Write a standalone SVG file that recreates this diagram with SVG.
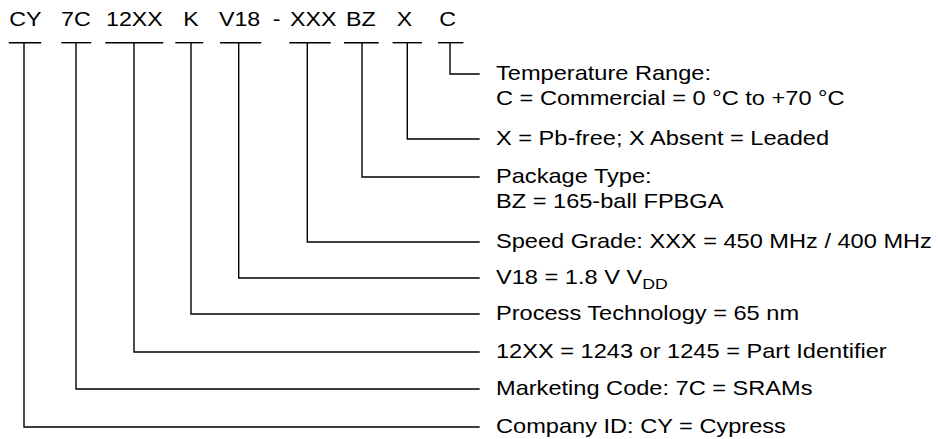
<svg xmlns="http://www.w3.org/2000/svg" width="938" height="439" viewBox="0 0 938 439">
<style>
.t{font-family:"Liberation Sans",Arial,Helvetica,sans-serif;font-size:20px;fill:#000}
.ln{fill:none;stroke:#000;stroke-width:1.4;stroke-linecap:square}
</style>
<rect width="938" height="439" fill="#fff"/>
<g id="code-cy">
<text class="t" transform="translate(9.3,26) scale(1.16,1)">CY</text>
<line class="ln" x1="9.5" y1="42.7" x2="40.5" y2="42.7"/>
<text class="t" transform="translate(496,433) scale(1.18,1)">Company ID: CY = Cypress</text>
</g>
<g id="code-7c">
<text class="t" transform="translate(61,26) scale(1.16,1)">7C</text>
<line class="ln" x1="62" y1="42.7" x2="90.5" y2="42.7"/>
<text class="t" transform="translate(496,395) scale(1.18,1)">Marketing Code: 7C = SRAMs</text>
</g>
<g id="code-12xx">
<text class="t" transform="translate(106,26) scale(1.16,1)">12XX</text>
<line class="ln" x1="106" y1="42.7" x2="162.5" y2="42.7"/>
<text class="t" transform="translate(496,358) scale(1.18,1)">12XX = 1243 or 1245 = Part Identifier</text>
</g>
<g id="code-k">
<text class="t" transform="translate(183.3,26) scale(1.16,1)">K</text>
<line class="ln" x1="176" y1="42.7" x2="202.5" y2="42.7"/>
<text class="t" transform="translate(496,320) scale(1.18,1)">Process Technology = 65 nm</text>
</g>
<g id="code-v18">
<text class="t" transform="translate(219,26) scale(1.16,1)">V18</text>
<line class="ln" x1="220.7" y1="42.7" x2="260.5" y2="42.7"/>
<text class="t" transform="translate(496,284) scale(1.18,1)">V18 = 1.8 V V<tspan font-size="15" dy="5">DD</tspan></text>
</g>
<g id="code-xxx">
<text class="t" transform="translate(272.7,26) scale(1.16,1)">-</text>
<text class="t" transform="translate(290,26) scale(1.16,1)">XXX</text>
<line class="ln" x1="290" y1="42.7" x2="330" y2="42.7"/>
<text class="t" transform="translate(496,248) scale(1.18,1)">Speed Grade: XXX = 450 MHz / 400 MHz</text>
</g>
<g id="code-bz">
<text class="t" transform="translate(346,26) scale(1.16,1)">BZ</text>
<line class="ln" x1="344.7" y1="42.7" x2="378" y2="42.7"/>
<text class="t" transform="translate(496,183) scale(1.18,1)">Package Type:</text>
<text class="t" transform="translate(496,208) scale(1.18,1)">BZ = 165-ball FPBGA</text>
</g>
<g id="code-x">
<text class="t" transform="translate(396.7,26) scale(1.16,1)">X</text>
<line class="ln" x1="393.3" y1="42.7" x2="421.3" y2="42.7"/>
<text class="t" transform="translate(496,145) scale(1.18,1)">X = Pb-free; X Absent = Leaded</text>
</g>
<g id="code-c">
<text class="t" transform="translate(439.3,26) scale(1.16,1)">C</text>
<line class="ln" x1="438.7" y1="42.7" x2="462.7" y2="42.7"/>
<text class="t" transform="translate(496,80) scale(1.18,1)">Temperature Range:</text>
<text class="t" transform="translate(496,105) scale(1.18,1)">C = Commercial = 0 °C to +70 °C</text>
</g>
<g id="connectors">
<path class="ln" d="M24,42.7 V427 H479"/>
<path class="ln" d="M76,42.7 V389 H479"/>
<path class="ln" d="M134,42.7 V352 H479"/>
<path class="ln" d="M191,42.7 V314 H479"/>
<path class="ln" d="M238.7,42.7 V278 H479"/>
<path class="ln" d="M307.3,42.7 V242 H479"/>
<path class="ln" d="M362,42.7 V177 H479"/>
<path class="ln" d="M407.3,42.7 V139 H479"/>
<path class="ln" d="M450,42.7 V74 H479"/>
</g>
</svg>
